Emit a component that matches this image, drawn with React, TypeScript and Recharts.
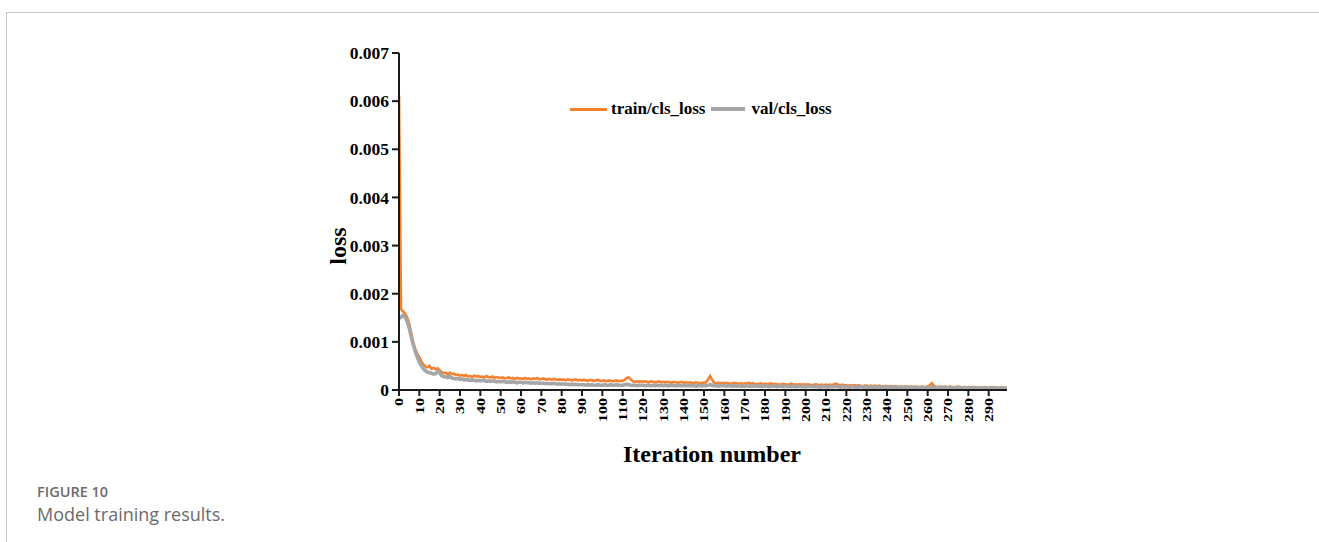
import React from "react";
import { LineChart, Line, XAxis, YAxis } from "recharts";

// ---- data ----
const trainLoss: number[] = [
  0.00612, 0.00168, 0.00163, 0.00159, 0.00151, 0.00138, 0.00119, 0.00099, 0.00086, 0.00075,
  0.00068, 0.00059, 0.00053, 0.00049, 0.00047, 0.0005, 0.00044, 0.00046, 0.00043, 0.00045,
  0.00041, 0.00037, 0.00035, 0.00036, 0.00032, 0.00036, 0.00033, 0.00034, 0.00031, 0.00032,
  0.0003, 0.00031, 0.00029, 0.00031, 0.00028, 0.00029, 0.00027, 0.0003, 0.00028, 0.00029,
  0.00027, 0.00028, 0.00026, 0.00029, 0.00027, 0.00026, 0.00028, 0.00025, 0.00027, 0.00026,
  0.00025, 0.00026, 0.00024, 0.00025, 0.00026, 0.00024, 0.00025, 0.00023, 0.00025, 0.00024,
  0.00024, 0.00023, 0.00025, 0.00023, 0.00024, 0.00022, 0.00024, 0.00023, 0.00025, 0.00022,
  0.00023, 0.00024, 0.00022, 0.00022, 0.00023, 0.00021, 0.00023, 0.00022, 0.00021, 0.00022,
  0.00021, 0.00022, 0.0002, 0.00022, 0.00021, 0.0002, 0.00021, 0.00022, 0.0002, 0.00021,
  0.0002, 0.00021, 0.0002, 0.00019, 0.00021, 0.0002, 0.00019, 0.0002, 0.00021, 0.00019,
  0.00019, 0.0002, 0.00018, 0.0002, 0.00019, 0.00018, 0.00019, 0.0002, 0.00018, 0.00019,
  0.00019, 0.00021, 0.00025, 0.00026, 0.00022, 0.00018, 0.00017, 0.00018, 0.00017, 0.00018,
  0.00017, 0.00018, 0.00017, 0.00016, 0.00018, 0.00017, 0.00016, 0.00017, 0.00018, 0.00016,
  0.00017, 0.00016, 0.00017, 0.00016, 0.00015, 0.00017, 0.00016, 0.00015, 0.00016, 0.00017,
  0.00015, 0.00016, 0.00015, 0.00016, 0.00015, 0.00014, 0.00016, 0.00015, 0.00014, 0.00015,
  0.00015, 0.00016, 0.00022, 0.00029, 0.00021, 0.00015, 0.00014, 0.00015, 0.00014, 0.00015,
  0.00014, 0.00015, 0.00014, 0.00013, 0.00014, 0.00015, 0.00014, 0.00013, 0.00014, 0.00013,
  0.00014, 0.00013, 0.00015, 0.00013, 0.00014, 0.00013, 0.00012, 0.00013, 0.00014, 0.00012,
  0.00013, 0.00012, 0.00013, 0.00014, 0.00012, 0.00013, 0.00012, 0.00011, 0.00012, 0.00013,
  0.00012, 0.00011, 0.00012, 0.00013, 0.00011, 0.00012, 0.00011, 0.00012, 0.00011, 0.00012,
  0.00011, 0.00012, 0.00011, 0.0001, 0.00011, 0.00012, 0.00011, 0.0001, 0.00011, 0.0001,
  0.00011, 0.0001, 0.00011, 0.0001, 0.00012, 0.00013, 0.00011, 0.0001, 0.00011, 0.0001,
  0.0001, 0.00009, 0.0001, 0.00009, 0.0001, 0.00009, 0.0001, 0.00009, 0.00008, 0.00009,
  0.00009, 0.00008, 0.00009, 0.00008, 0.00009, 0.00008, 0.00009, 0.00008, 0.00007, 0.00008,
  0.00008, 0.00007, 0.00008, 0.00007, 0.00008, 0.00007, 0.00006, 0.00007, 0.00006, 0.00007,
  0.00007, 0.00006, 0.00007, 0.00006, 0.00007, 0.00006, 0.00006, 0.00007, 0.00006, 0.00006,
  0.00007, 0.0001, 0.00014, 0.00009, 0.00006, 0.00006, 0.00007, 0.00006, 0.00007, 0.00006,
  0.00006, 0.00007, 0.00006, 0.00005, 0.00006, 0.00007, 0.00006, 0.00005, 0.00006, 0.00005,
  0.00006, 0.00005, 0.00006, 0.00005, 0.00005, 0.00006, 0.00005, 0.00005, 0.00006, 0.00005,
  0.00005, 0.00005, 0.00006, 0.00005, 0.00005, 0.00004, 0.00005, 0.00005, 0.00004, 0.00005,
];

const valLoss: number[] = [
  0.00148, 0.00152, 0.00155, 0.00151, 0.00143, 0.00129, 0.00111, 0.00094, 0.0008, 0.00068,
  0.00058, 0.0005, 0.00044, 0.0004, 0.00037, 0.00036, 0.00035, 0.00033, 0.00034, 0.00039,
  0.00036, 0.0003, 0.00028, 0.00027, 0.00026, 0.00028, 0.00025, 0.00024, 0.00023, 0.00024,
  0.00022, 0.00023, 0.00021, 0.00022, 0.00021, 0.0002, 0.00021, 0.0002, 0.00019, 0.0002,
  0.00019, 0.0002, 0.00019, 0.00018, 0.00019, 0.00018, 0.00019, 0.00018, 0.00017, 0.00018,
  0.00017, 0.00018, 0.00017, 0.00016, 0.00017, 0.00016, 0.00017, 0.00016, 0.00015, 0.00016,
  0.00016, 0.00015, 0.00016, 0.00015, 0.00015, 0.00014, 0.00015, 0.00014, 0.00015, 0.00014,
  0.00014, 0.00014, 0.00013, 0.00014, 0.00013, 0.00013, 0.00014, 0.00013, 0.00012, 0.00013,
  0.00012, 0.00013, 0.00012, 0.00012, 0.00011, 0.00012, 0.00011, 0.00012, 0.00011, 0.00011,
  0.00011, 0.00011, 0.0001, 0.00011, 0.0001, 0.00011, 0.0001, 0.0001, 0.00011, 0.0001,
  0.0001, 0.00011, 0.0001, 0.0001, 0.00011, 0.0001, 0.0001, 0.00011, 0.0001, 0.0001,
  0.0001, 0.00011, 0.00012, 0.00011, 0.0001, 0.0001, 0.0001, 0.00009, 0.0001, 0.0001,
  0.0001, 0.00009, 0.0001, 0.0001, 0.00009, 0.0001, 0.00009, 0.0001, 0.00009, 0.0001,
  0.00009, 0.0001, 0.00009, 0.00009, 0.0001, 0.00009, 0.00009, 0.00009, 0.0001, 0.00009,
  0.00009, 0.00009, 0.0001, 0.00009, 0.00009, 0.00009, 0.00008, 0.00009, 0.00009, 0.00009,
  0.00009, 0.00009, 0.0001, 0.00011, 0.0001, 0.00009, 0.00009, 0.00008, 0.00009, 0.00009,
  0.00009, 0.00008, 0.00009, 0.00009, 0.00008, 0.00009, 0.00008, 0.00009, 0.00008, 0.00008,
  0.00008, 0.00009, 0.00008, 0.00008, 0.00008, 0.00009, 0.00008, 0.00008, 0.00008, 0.00008,
  0.00008, 0.00008, 0.00007, 0.00008, 0.00008, 0.00008, 0.00007, 0.00008, 0.00008, 0.00007,
  0.00008, 0.00007, 0.00008, 0.00007, 0.00008, 0.00007, 0.00007, 0.00008, 0.00007, 0.00007,
  0.00007, 0.00007, 0.00008, 0.00007, 0.00007, 0.00007, 0.00007, 0.00006, 0.00007, 0.00007,
  0.00007, 0.00006, 0.00007, 0.00007, 0.00007, 0.00008, 0.00007, 0.00006, 0.00007, 0.00006,
  0.00007, 0.00006, 0.00006, 0.00007, 0.00006, 0.00006, 0.00006, 0.00007, 0.00006, 0.00006,
  0.00006, 0.00006, 0.00006, 0.00005, 0.00006, 0.00006, 0.00006, 0.00005, 0.00006, 0.00006,
  0.00006, 0.00005, 0.00006, 0.00005, 0.00005, 0.00006, 0.00005, 0.00005, 0.00005, 0.00005,
  0.00005, 0.00005, 0.00005, 0.00005, 0.00005, 0.00005, 0.00004, 0.00005, 0.00005, 0.00005,
  0.00005, 0.00005, 0.00006, 0.00005, 0.00005, 0.00004, 0.00005, 0.00005, 0.00004, 0.00005,
  0.00004, 0.00005, 0.00004, 0.00005, 0.00004, 0.00004, 0.00005, 0.00004, 0.00004, 0.00004,
  0.00004, 0.00004, 0.00004, 0.00005, 0.00004, 0.00004, 0.00004, 0.00004, 0.00004, 0.00004,
  0.00004, 0.00004, 0.00004, 0.00004, 0.00004, 0.00004, 0.00004, 0.00004, 0.00004, 0.00004,
];

const xTicks: number[] = [
  0, 10, 20, 30, 40, 50, 60, 70, 80, 90, 100, 110, 120, 130, 140, 150, 160, 170, 180, 190,
  200, 210, 220, 230, 240, 250, 260, 270, 280, 290,
];
const xTickLabels: string[] = [
  "0", "10", "20", "30", "40", "50", "60", "70", "80", "90", "100", "110", "120", "130", "140",
  "150", "160", "170", "180", "190", "200", "210", "220", "230", "240", "250", "260", "270",
  "280", "290",
];
const yTicks: number[] = [0, 0.001, 0.002, 0.003, 0.004, 0.005, 0.006, 0.007];
const yTickLabels: string[] = ["0", "0.001", "0.002", "0.003", "0.004", "0.005", "0.006", "0.007"];

const seriesNames: string[] = ["train/cls_loss", "val/cls_loss"];

const data = trainLoss.map((v, i) => ({ iter: i, train: v, val: valLoss[i] }));

const SERIF = '"Liberation Serif", "Times New Roman", Times, serif';
const ORANGE = "#F4812F";
const GREY = "#A6A6A6";
const AXIS = "#1a1a1a";
const seriesColors: string[] = [ORANGE, GREY];

const XTick = (props: any) => {
  const { x, y, payload } = props;
  const idx = xTicks.indexOf(payload.value);
  const label = idx >= 0 ? xTickLabels[idx] : String(payload.value);
  return (
    <g transform={`translate(${x},${y}) scale(0.82,1)`}>
      <text
        transform="rotate(-90)"
        x={0}
        y={0}
        dy="0.34em"
        textAnchor="end"
        fontFamily={SERIF}
        fontWeight="bold"
        fontSize={16}
        fill="#000"
      >
        {label}
      </text>
    </g>
  );
};

const yFormat = (v: number) => {
  const idx = yTicks.indexOf(v);
  return idx >= 0 ? yTickLabels[idx] : String(v);
};

export default function App() {
  return (
    <div style={{ position: "absolute", left: 0, top: 0, width: 1319, height: 542, background: "#fff", overflow: "hidden" }}>
      <div style={{ position: "absolute", left: 6, top: 12, width: 1320, height: 540, borderTop: "1px solid #c8c8c8", borderLeft: "1px solid #c8c8c8" }} />
      <div style={{ position: "absolute", left: 300, top: 0 }}>
        <LineChart width={720} height={480} data={data} margin={{ top: 53, right: 13, left: 39, bottom: 10 }}>
          <XAxis
            dataKey="iter"
            type="number"
            domain={[0, 299]}
            ticks={xTicks}
            interval={0}
            height={80}
            tick={<XTick />}
            tickSize={6}
            tickMargin={2}
            axisLine={{ stroke: AXIS, strokeWidth: 2 }}
            tickLine={{ stroke: AXIS, strokeWidth: 2 }}
            allowDataOverflow
          />
          <YAxis
            type="number"
            domain={[0, 0.007]}
            ticks={yTicks}
            interval={0}
            width={60}
            tickFormatter={yFormat}
            tickSize={7}
            tickMargin={3}
            tick={{ fontFamily: SERIF, fontWeight: "bold", fontSize: 17.5, fill: "#000" }}
            axisLine={{ stroke: AXIS, strokeWidth: 2 }}
            tickLine={{ stroke: AXIS, strokeWidth: 2 }}
          />
          <Line
            type="linear"
            dataKey="train"
            name={seriesNames[0]}
            stroke={ORANGE}
            strokeWidth={2.6}
            dot={false}
            activeDot={false}
            isAnimationActive={false}
          />
          <Line
            type="linear"
            dataKey="val"
            name={seriesNames[1]}
            stroke={GREY}
            strokeWidth={3.6}
            dot={false}
            activeDot={false}
            isAnimationActive={false}
          />
        </LineChart>
      </div>
      {/* legend */}
      <div
        style={{
          position: "absolute",
          left: 570,
          top: 98,
          height: 22,
          display: "flex",
          alignItems: "center",
          fontFamily: SERIF,
          fontWeight: "bold",
          fontSize: 17,
          color: "#000",
          whiteSpace: "nowrap",
        }}
      >
        {seriesNames.map((n, i) => (
          <div key={n} style={{ display: "flex", alignItems: "center", marginRight: 6 }}>
            <div style={{ width: i === 0 ? 37 : 34, height: i === 0 ? 3 : 4, background: seriesColors[i], marginRight: i === 0 ? 4 : 6 }} />
            <span>{n}</span>
          </div>
        ))}
      </div>
      <div
        style={{
          position: "absolute",
          left: 338,
          top: 246,
          transform: "translate(-50%, -50%) rotate(-90deg)",
          fontFamily: SERIF,
          fontWeight: "bold",
          fontSize: 24,
          lineHeight: "24px",
          color: "#000",
          whiteSpace: "nowrap",
        }}
      >
        loss
      </div>
      <div
        style={{
          position: "absolute",
          left: 712,
          top: 442,
          transform: "translateX(-50%)",
          fontFamily: SERIF,
          fontWeight: "bold",
          fontSize: 24,
          lineHeight: "24px",
          color: "#000",
          whiteSpace: "nowrap",
        }}
      >
        Iteration number
      </div>
      <div
        style={{
          position: "absolute",
          left: 37,
          top: 485,
          fontFamily: '"Open Sans", "Noto Sans", sans-serif',
          fontWeight: 600,
          fontSize: 14.5,
          lineHeight: "14px",
          color: "#6b6b6b",
          whiteSpace: "nowrap",
        }}
      >
        FIGURE 10
      </div>
      <div
        style={{
          position: "absolute",
          left: 37,
          top: 505,
          fontFamily: '"Open Sans", "Noto Sans", sans-serif',
          fontWeight: 400,
          fontSize: 18,
          lineHeight: "18px",
          color: "#6b6b6b",
          whiteSpace: "nowrap",
        }}
      >
        Model training results.
      </div>
    </div>
  );
}
